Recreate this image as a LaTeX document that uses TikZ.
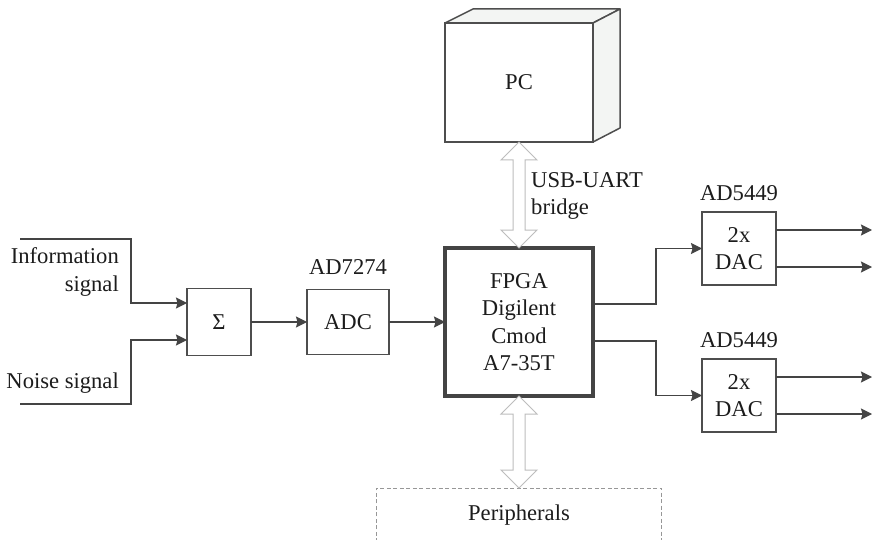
\documentclass[tikz,border=0pt]{standalone}
\usepackage{fontspec}
\setmainfont{Liberation Serif}
\usetikzlibrary{positioning,arrows.meta,calc}
\definecolor{linegrey}{HTML}{444444}
\definecolor{boxgrey}{HTML}{4E4E4E}
\definecolor{busgrey}{HTML}{BDBDBD}
\definecolor{sidegrey}{HTML}{F3F5F3}
\definecolor{textgrey}{HTML}{1C1C1C}
\tikzset{
  block/.style={
    draw=boxgrey, align=center, inner sep=0pt, outer sep=0pt,
    line width=1.5pt, text=textgrey,
  },
  lbl/.style ={align=center, inner sep=0pt, text=textgrey},
  flow/.style={-{Stealth[length=11pt,width=11pt,inset=1.5pt]}, draw=linegrey, line width=1.5pt},
  % outline of a vertical two-headed bus, drawn between two node anchors
  bus/.style={draw=busgrey, line width=1pt, fill=white, line join=miter, to path={
    -- ($(\tikztostart)+(18,18)$) -- ($(\tikztostart)+(6,18)$)
    -- ($(\tikztotarget)+(6,-18)$) -- ($(\tikztotarget)+(18,-18)$)
    -- (\tikztotarget)
    -- ($(\tikztotarget)+(-18,-18)$) -- ($(\tikztotarget)+(-6,-18)$)
    -- ($(\tikztostart)+(-6,18)$) -- ($(\tikztostart)+(-18,18)$) -- cycle}},
}
\begin{document}
\begin{tikzpicture}[x=1pt, y=-1pt, font=\fontsize{22.6pt}{27.3pt}\selectfont]

\path[use as bounding box, fill=white] (0,0) rectangle (872,540);

\node[block, draw=linegrey, line width=3.5pt, minimum width=148pt, minimum height=148pt] (fpga) at (519,322)
  {FPGA\\Digilent\\Cmod\\A7-35T};

% ---------------------------------------------------------------- input chain
\node[block, left=56pt of fpga, minimum width=82pt, minimum height=65pt] (adc) {ADC};
\node[block, left=56pt of adc, minimum width=64pt, minimum height=67pt] (sigma) {Σ};
\node[lbl, above=22.5pt of adc.north, anchor=center] (adclbl) {AD7274};

\coordinate (infostart) at (20,239);
\coordinate (noisestart) at (20,404);
\coordinate (sigmain1) at ($(sigma.west)+(0,-19)$);
\coordinate (sigmain2) at ($(sigma.west)+(0,18)$);
\node[lbl, align=right, anchor=east] (infolbl) at (119,272) {Information\\signal};
\node[lbl, anchor=east] (noiselbl) at (119,383.5) {Noise signal};

% ---------------------------------------------------------------- PC on top
\node[block, above=106pt of fpga, minimum width=148pt, minimum height=119pt] (pc) {PC};
\draw[block, fill=sidegrey, line join=round] (pc.north west) -- ++(28,-14) -- ++(147,0) -- ++(-27,14) -- cycle;
\draw[block, fill=sidegrey, line join=round] (pc.north east) -- ++(27,-14) -- ++(0,119) -- ++(-27,14) -- cycle;
\node[lbl, align=left, anchor=west] (usblbl) at (531,196) {USB-UART\\bridge};

% ---------------------------------------------------------------- peripherals
\node[lbl, below=92pt of fpga, minimum width=285pt, minimum height=54pt] (periph) {Peripherals};
\draw[draw=busgrey!80!black, line width=.8pt, dash pattern=on 4pt off 2.5pt]
  (periph.south west) |- (periph.north east) -- (periph.south east);

% ---------------------------------------------------------------- DACs
\node[block, right=109pt of fpga, yshift=73.5pt, minimum width=74pt, minimum height=73pt] (dac1) {2x\\DAC};
\node[block, right=109pt of fpga, yshift=-73.5pt, minimum width=74pt, minimum height=73pt] (dac2) {2x\\DAC};
\node[lbl, above=19pt of dac1.north, anchor=center] (dac1lbl) {AD5449};
\node[lbl, above=19pt of dac2.north, anchor=center] (dac2lbl) {AD5449};

\coordinate (rim) at (872,0);
\coordinate (fpgaout1) at ($(fpga.east)+(0,-18)$);
\coordinate (fpgaout2) at ($(fpga.east)+(0,19)$);
\coordinate (dac1a) at ($(dac1.east)+(0,-18.5)$);
\coordinate (dac1b) at ($(dac1.east)+(0,18.5)$);
\coordinate (dac2a) at ($(dac2.east)+(0,-18.5)$);
\coordinate (dac2b) at ($(dac2.east)+(0,18.5)$);

% ---------------------------------------------------------------- edges
\draw[flow] (infostart) -- ++(111,0) |- (sigmain1);
\draw[flow] (noisestart) -- ++(111,0) |- (sigmain2);
\draw[flow] (sigma) -- (adc);
\draw[flow] (adc) -- (fpga);
\draw[flow] (fpgaout1) -- ++(63,0) |- (dac1.west);
\draw[flow] (fpgaout2) -- ++(63,0) |- (dac2.west);
\draw[flow] (dac1a) -- (dac1a -| rim);
\draw[flow] (dac1b) -- (dac1b -| rim);
\draw[flow] (dac2a) -- (dac2a -| rim);
\draw[flow] (dac2b) -- (dac2b -| rim);
\draw[bus] (pc.south) to (fpga.north);
\draw[bus] (fpga.south) to (periph.north);

\end{tikzpicture}
\end{document}
